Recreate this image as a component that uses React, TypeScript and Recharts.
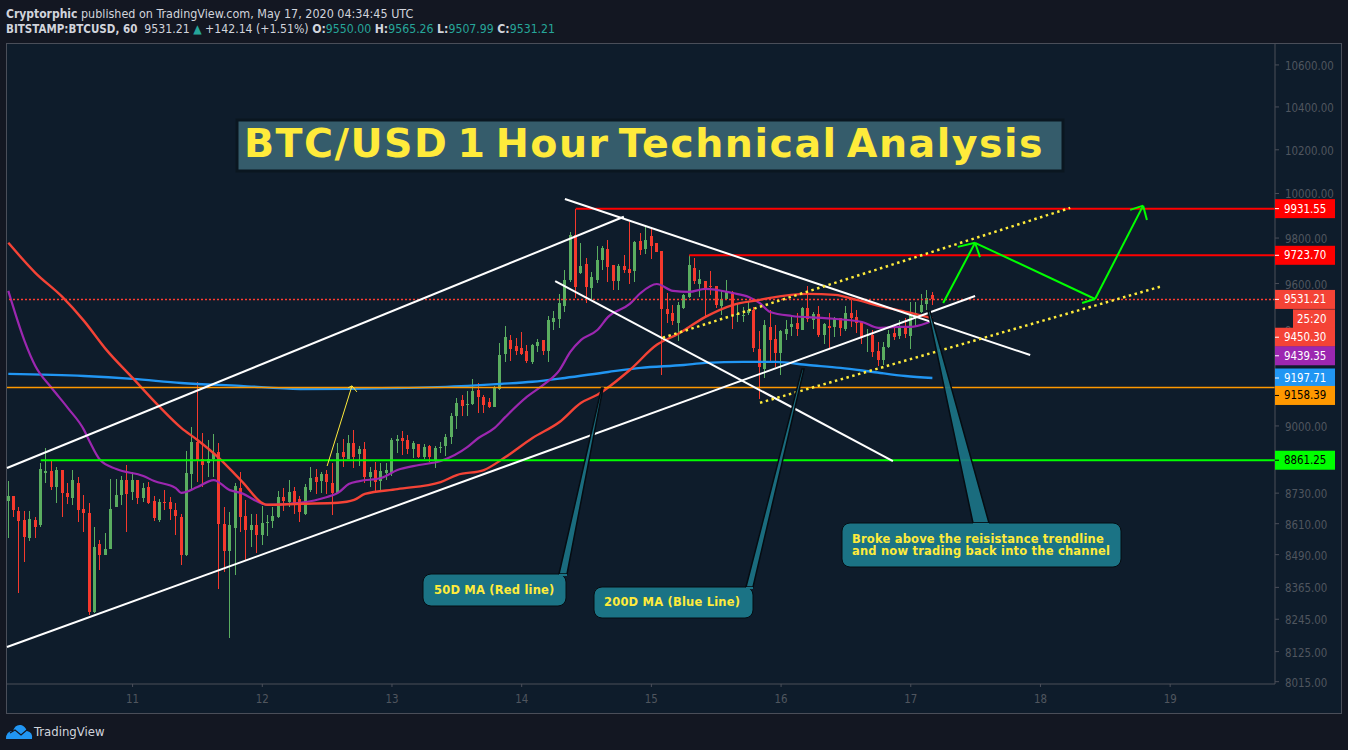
import { Bar, ComposedChart, Line, ReferenceLine, XAxis, YAxis } from 'recharts'

// hours since May 10 00:00 UTC, one candle per hour
const opens = [
  8700, 8719, 8660, 8625, 8556, 8625, 8603, 8810, 8818, 8756,
  8822, 8730, 8712, 8770, 8668, 8652, 8273, 8532, 8490, 8511,
  8677, 8721, 8782, 8735, 8782, 8711, 8755, 8699, 8625, 8695,
  8695, 8664, 8637, 8488, 8807, 8935, 8866, 8851, 8866, 8895,
  8609, 8506, 8595, 8751, 8641, 8586, 8606, 8566, 8615, 8621,
  8637, 8715, 8695, 8739, 8707, 8648, 8742, 8794, 8778, 8806,
  8770, 8732, 8894, 8867, 8931, 8886, 8907, 8794, 8822, 8778,
  8810, 8810, 8939, 8951, 8943, 8907, 8927, 8874, 8919, 8858,
  8912, 8919, 8955, 9041, 9107, 9088, 9090, 9148, 9119, 9099,
  9078, 9152, 9298, 9358, 9332, 9324, 9311, 9265, 9332, 9358,
  9311, 9434, 9447, 9503, 9616, 9814, 9647, 9686, 9581, 9616,
  9703, 9752, 9681, 9611, 9677, 9664, 9655, 9788, 9752, 9810,
  9779, 9743, 9490, 9473, 9430, 9494, 9542, 9668, 9598, 9611,
  9590, 9590, 9503, 9533, 9564, 9464, 9462, 9473, 9486, 9320,
  9236, 9413, 9362, 9303, 9384, 9413, 9430, 9400, 9494, 9443,
  9469, 9379, 9417, 9413, 9451, 9405, 9473, 9456, 9434, 9375,
  9379, 9311, 9273, 9328, 9388, 9375, 9417, 9375, 9456, 9477,
  9512, 9550,
]
const closes = [
  8719, 8665, 8622, 8560, 8629, 8598, 8826, 8818, 8756, 8822,
  8732, 8715, 8782, 8665, 8652, 8273, 8520, 8490, 8513, 8668,
  8724, 8782, 8728, 8782, 8710, 8752, 8693, 8634, 8695, 8693,
  8668, 8642, 8488, 8810, 8935, 8862, 8843, 8866, 8891, 8607,
  8505, 8606, 8758, 8638, 8586, 8606, 8566, 8612, 8617, 8641,
  8715, 8699, 8735, 8691, 8656, 8755, 8790, 8774, 8806, 8774,
  8730, 8890, 8874, 8931, 8874, 8907, 8795, 8814, 8774, 8818,
  8822, 8943, 8947, 8939, 8907, 8931, 8873, 8915, 8874, 8911,
  8915, 8955, 9041, 9095, 9082, 9090, 9144, 9119, 9086, 9078,
  9160, 9294, 9371, 9320, 9311, 9298, 9269, 9337, 9349, 9311,
  9443, 9451, 9516, 9616, 9814, 9586, 9677, 9586, 9629, 9703,
  9756, 9673, 9611, 9677, 9660, 9647, 9783, 9747, 9792, 9765,
  9739, 9490, 9469, 9439, 9507, 9551, 9681, 9611, 9620, 9577,
  9586, 9507, 9533, 9568, 9464, 9469, 9466, 9486, 9324, 9244,
  9422, 9358, 9303, 9396, 9405, 9426, 9405, 9494, 9447, 9469,
  9379, 9426, 9409, 9447, 9409, 9473, 9451, 9430, 9367, 9379,
  9307, 9273, 9328, 9384, 9371, 9417, 9384, 9464, 9473, 9507,
  9538, 9531.21,
]
const highs = [
  8778, 8719, 8676, 8660, 8660, 8637, 8850, 8909, 8862, 8833,
  8822, 8771, 8822, 8793, 8721, 8690, 8598, 8547, 8574, 8786,
  8786, 8799, 8842, 8813, 8782, 8769, 8775, 8719, 8706, 8742,
  8715, 8690, 8647, 8900, 8996, 9183, 8970, 8942, 8966, 8930,
  8676, 8655, 8769, 8815, 8703, 8647, 8648, 8680, 8645, 8677,
  8738, 8749, 8782, 8756, 8719, 8766, 8834, 8826, 8814, 8822,
  8849, 8929, 8946, 8963, 8984, 8919, 8935, 8833, 8854, 8849,
  8851, 8951, 8963, 8980, 8963, 8939, 8927, 8925, 8924, 8919,
  8934, 8967, 9055, 9115, 9128, 9144, 9194, 9176, 9128, 9115,
  9165, 9345, 9417, 9379, 9366, 9392, 9337, 9341, 9362, 9358,
  9460, 9482, 9555, 9660, 9828, 9931.55, 9779, 9712, 9651, 9765,
  9765, 9792, 9681, 9686, 9725, 9872, 9788, 9823, 9859, 9850,
  9779, 9743, 9559, 9507, 9520, 9555, 9725, 9712, 9660, 9611,
  9655, 9590, 9572, 9616, 9568, 9516, 9499, 9525, 9499, 9396,
  9443, 9486, 9422, 9400, 9443, 9456, 9473, 9499, 9590, 9477,
  9503, 9430, 9473, 9456, 9451, 9503, 9529, 9486, 9434, 9405,
  9400, 9349, 9349, 9400, 9422, 9443, 9451, 9520, 9520, 9555,
  9572, 9565.26,
]
const lows = [
  8553, 8638, 8345, 8460, 8544, 8553, 8599, 8771, 8742, 8693,
  8638, 8687, 8685, 8615, 8579, 8261, 8267, 8432, 8487, 8510,
  8677, 8683, 8579, 8703, 8687, 8696, 8687, 8621, 8618, 8664,
  8625, 8566, 8451, 8485, 8742, 8775, 8756, 8795, 8795, 8359,
  8425, 8177, 8412, 8579, 8464, 8521, 8498, 8528, 8562, 8594,
  8634, 8661, 8677, 8648, 8615, 8645, 8736, 8726, 8729, 8726,
  8645, 8732, 8835, 8865, 8831, 8838, 8771, 8756, 8740, 8742,
  8782, 8798, 8890, 8882, 8886, 8870, 8870, 8866, 8855, 8829,
  8890, 8878, 8927, 8986, 9041, 9041, 9086, 9052, 9053, 9074,
  9078, 9148, 9265, 9269, 9294, 9294, 9261, 9256, 9307, 9294,
  9265, 9400, 9409, 9477, 9607, 9538, 9640, 9516, 9533, 9603,
  9660, 9607, 9572, 9572, 9647, 9598, 9607, 9725, 9730, 9707,
  9739, 9211, 9430, 9422, 9354, 9490, 9538, 9598, 9542, 9456,
  9551, 9494, 9464, 9529, 9405, 9434, 9434, 9464, 9307, 9111,
  9198, 9265, 9244, 9211, 9358, 9375, 9375, 9400, 9434, 9405,
  9371, 9341, 9324, 9371, 9375, 9396, 9413, 9388, 9341, 9307,
  9286, 9248, 9252, 9324, 9358, 9362, 9367, 9320, 9413, 9473,
  9486, 9507.99,
]

const purpleHours = [1, 4, 6, 9, 12, 15, 16, 18, 21, 26, 28, 32, 33, 36, 39, 42, 44, 49, 55, 60, 62, 64, 66, 70, 73, 77, 81, 86, 88, 91, 93, 97, 100, 103, 105, 107, 110, 112, 116, 118, 121, 124, 127, 130, 135, 138, 140, 142, 146, 152, 159, 162, 166, 168, 171, 172]
const purpleValues = [9568, 9354, 9248, 9157, 9074, 8984, 8939, 8862, 8826, 8798, 8778, 8750, 8731, 8754, 8782, 8742, 8731, 8684, 8692, 8715, 8731, 8766, 8778, 8790, 8822, 8842, 8858, 8915, 8951, 8992, 9037, 9120, 9169, 9231, 9307, 9358, 9400, 9456, 9512, 9559, 9598, 9568, 9564, 9577, 9559, 9542, 9516, 9477, 9460, 9451, 9434, 9409, 9413, 9413, 9430, 9439.35]

const redHours = [1, 6, 11, 15, 19, 24, 29, 33, 36, 40, 44, 49, 55, 62, 65, 67, 73, 81, 84, 89, 93, 98, 103, 107, 110, 116, 121, 125, 130, 135, 140, 142, 149, 154, 158, 163, 168, 172]
const redValues = [9779, 9647, 9542, 9439, 9320, 9198, 9078, 8992, 8943, 8870, 8782, 8684, 8688, 8692, 8703, 8727, 8746, 8774, 8802, 8822, 8874, 8951, 9016, 9095, 9128, 9231, 9337, 9384, 9456, 9507, 9529, 9538, 9555, 9551, 9529, 9499, 9473, 9450.3]

const blueHours = [1, 15, 24, 33, 44, 55, 73, 86, 92, 98, 104, 112, 118, 126, 130, 137, 143, 149, 155, 161, 167, 172]
const blueValues = [9215, 9206, 9194, 9177, 9165, 9152, 9156, 9165, 9173, 9182, 9198, 9223, 9240, 9252, 9261, 9265, 9265, 9252, 9240, 9223, 9206, 9197.71]

const dayTicks = [24, 48, 72, 96, 120, 144, 168, 192, 216]
const priceTicks = [10600, 10400, 10200, 10000, 9800, 9600, 9400, 9000, 8730, 8610, 8490, 8365, 8245, 8125, 8015]

const HOUR_MIN = 0.76
const HOUR_MAX = 235.4
const PRICE_MIN = 8006.6
const PRICE_MAX = 10701

// [hour, price, hour, price]
const whiteLines = [
  [0.76, 8830, 114.9, 9895],
  [0.76, 8142, 179.9, 9546],
  [104, 9975, 190.1, 9294],
  [102.2, 9611, 164.7, 8858],
]
const dottedLines = [
  [122.1, 9367, 197.5, 9935],
  [140.1, 9095, 214.1, 9586],
]
const yellowArrow = [
  [60, 8838, 64.6, 9165],
  [64.6, 9165, 63.9, 9157],
  [64.6, 9165, 65.5, 9140],
]
const greenArrows = [
  [174, 9516, 179.9, 9779],
  [179.9, 9779, 202.1, 9533],
  [202.1, 9533, 211, 9945],
  [176.7, 9761, 179.9, 9779],
  [179.9, 9779, 180.8, 9716],
  [199.7, 9516, 202.1, 9533],
  [208.6, 9926, 211, 9945],
  [211, 9945, 211.7, 9881],
]
const levelLines = [
  { price: 9931.55, from: 106, color: '#ff0000', width: 2 },
  { price: 9723.7, from: 127, color: '#ff0000', width: 2 },
  { price: 9158.39, from: HOUR_MIN, color: '#ff9800', width: 1.5 },
  { price: 8861.25, from: 7, color: '#00ff00', width: 2 },
]

const priceLabels = [
  { price: 9931.55, bg: '#ff0000', fg: '#ffffff', shift: 0 },
  { price: 9723.7, bg: '#ff0000', fg: '#ffffff', shift: 0 },
  { price: 9531.21, bg: '#f44336', fg: '#ffffff', shift: 0 },
  { price: 9450.3, bg: '#f44336', fg: '#ffffff', shift: 19 },
  { price: 9439.35, bg: '#9c27b0', fg: '#ffffff', shift: 35 },
  { price: 9197.71, bg: '#2196f3', fg: '#ffffff', shift: 0 },
  { price: 9158.39, bg: '#ff9800', fg: '#000000', shift: 8 },
  { price: 8861.25, bg: '#00ff00', fg: '#000000', shift: 0 },
]

const UP = '#5aad60'
const DOWN = '#f5392d'
const UI_FONT = '"DejaVu Sans Condensed", "DejaVu Sans", sans-serif'

const purpleByHour = new Map(purpleHours.map((h, i) => [h, purpleValues[i]]))
const redByHour = new Map(redHours.map((h, i) => [h, redValues[i]]))
const blueByHour = new Map(blueHours.map((h, i) => [h, blueValues[i]]))

const rows = opens.map((open, i) => ({
  hour: i + 1,
  open,
  close: closes[i],
  high: highs[i],
  low: lows[i],
  purple: purpleByHour.get(i + 1) ?? null,
  red: redByHour.get(i + 1) ?? null,
  blue: blueByHour.get(i + 1) ?? null,
}))

// snap candles to whole pixels, like the TradingView canvas does
function Wick({ x, y, width, height, payload }: any) {
  const center = Math.round(x + width / 2 - 0.5)
  return (
    <rect
      x={center}
      y={y}
      width={1}
      height={Math.max(height, 1)}
      fill={payload.close >= payload.open ? UP : DOWN}
      shapeRendering="crispEdges"
    />
  )
}

function Body({ x, y, width, height, payload }: any) {
  const center = Math.round(x + width / 2 - 0.5)
  return (
    <rect
      x={center - 1}
      y={y}
      width={3}
      height={Math.max(height, 1)}
      fill={payload.close >= payload.open ? UP : DOWN}
      shapeRendering="crispEdges"
    />
  )
}

function PriceTick({ x, y, payload }: any) {
  const label = priceLabels.find((l) => l.price === payload.value)
  if (!label) {
    return (
      <g>
        <line x1={x} x2={x + 4} y1={y} y2={y} stroke="#4a4e59" />
        <text x={x + 10} y={y + 5} fill="#50565f" fontSize={11.4} fontFamily={UI_FONT}>
          {payload.value.toFixed(2)}
        </text>
      </g>
    )
  }
  const cy = y + label.shift
  return (
    <g>
      {label.price === 9531.21 && (
        <g>
          <rect x={x + 18} y={cy + 10} width={42} height={20} fill={label.bg} />
          <text x={x + 22} y={cy + 24} fill="#ffffff" fontSize={11.4} fontFamily={UI_FONT}>25:20</text>
        </g>
      )}
      <rect x={x} y={cy - 9.5} width={60} height={19} fill={label.bg} />
      <line x1={x} x2={x + 4} y1={cy} y2={cy} stroke={label.fg} />
      <text x={x + 9} y={cy + 4} fill={label.fg} fontSize={11.4} fontFamily={UI_FONT}>
        {label.price.toFixed(2)}
      </text>
    </g>
  )
}

function Callout({ points, x, y, w, h, lines, textX, textY }: any) {
  return (
    <g>
      <polygon points={points.join(' ')} fill="#1b7385" fillOpacity={0.92} stroke="#050c12" strokeWidth={1.5} />
      <rect x={x} y={y} width={w} height={h} rx={8} fill="#1b7385" stroke="#050c12" />
      <line x1={points[0].split(',')[0]} x2={points[3].split(',')[0]} y1={y + 1} y2={y + 1} stroke="#1b7385" strokeWidth={2} />
      {lines.map((line: string, i: number) => (
        <text key={line} x={textX} y={textY + i * 12} fill="#ffeb3b" fontSize={11.5} fontWeight="bold" fontFamily="DejaVu Sans" letterSpacing={0.2}>
          {line}
        </text>
      ))}
    </g>
  )
}

export default function App() {
  return (
    <div style={{ position: 'absolute', left: 0, top: 0, width: 1348, height: 750, background: '#131722', overflow: 'hidden' }}>
      <div style={{ position: 'absolute', left: 6, top: 6, fontFamily: UI_FONT, fontSize: 12.45, color: '#d1d4dc', whiteSpace: 'nowrap', lineHeight: '15px' }}>
        <b style={{ fontSize: 12 }}>Cryptorphic</b> published on TradingView.com, May 17, 2020 04:34:45 UTC
      </div>
      <div style={{ position: 'absolute', left: 6, top: 22, fontFamily: UI_FONT, fontSize: 12.2, color: '#d1d4dc', whiteSpace: 'nowrap', lineHeight: '15px' }}>
        <b style={{ fontSize: 11.5 }}>BITSTAMP:BTCUSD, 60</b>&nbsp; 9531.21 <span style={{ color: '#26a69a' }}>▲</span> +142.14 (+1.51%) <b>O:</b>
        <span style={{ color: '#26a69a' }}>9550.00</span> <b>H:</b>
        <span style={{ color: '#26a69a' }}>9565.26</span> <b>L:</b>
        <span style={{ color: '#26a69a' }}>9507.99</span> <b>C:</b>
        <span style={{ color: '#26a69a' }}>9531.21</span>
      </div>
      <div style={{ position: 'absolute', left: 6, top: 43, width: 1334, height: 669, background: '#0e1c2b', border: '1px solid #4a4e59' }} />
      <div style={{ position: 'absolute', left: 0, top: 0 }}>
        <ComposedChart width={1348} height={750} data={rows} margin={{ top: 44, right: 7, bottom: 37, left: 7 }}>
          <XAxis
            dataKey="hour"
            type="number"
            domain={[HOUR_MIN, HOUR_MAX]}
            allowDataOverflow
            ticks={dayTicks}
            interval={0}
            height={29}
            stroke="#4a4e59"
            tickSize={3}
            tickMargin={8}
            tickFormatter={(h: number) => String(10 + h / 24)}
            tick={{ fill: '#50565f', fontSize: 11.4, fontFamily: UI_FONT }}
          />
          <XAxis xAxisId="bodies" dataKey="hour" type="number" domain={[HOUR_MIN, HOUR_MAX]} allowDataOverflow hide />
          <YAxis
            orientation="right"
            type="number"
            scale="log"
            domain={[PRICE_MIN, PRICE_MAX]}
            allowDataOverflow
            ticks={[...priceTicks, ...priceLabels.map((l) => l.price)]}
            interval={0}
            width={66}
            stroke="#4a4e59"
            tickLine={false}
            tickSize={0}
            tickMargin={0}
            tick={PriceTick}
          />
          <Bar dataKey={(d: any) => [d.low, d.high]} barSize={1} shape={Wick} isAnimationActive={false} />
          <Bar xAxisId="bodies" dataKey={(d: any) => [Math.min(d.open, d.close), Math.max(d.open, d.close)]} barSize={3} shape={Body} isAnimationActive={false} />
          <Line dataKey="blue" type="monotone" stroke="#2196f3" strokeWidth={2.4} dot={false} connectNulls isAnimationActive={false} />
          <Line dataKey="purple" type="monotone" stroke="#9c27b0" strokeWidth={2.2} dot={false} connectNulls isAnimationActive={false} />
          <Line dataKey="red" type="monotone" stroke="#f44336" strokeWidth={2.4} dot={false} connectNulls isAnimationActive={false} />
          {levelLines.map((l) => (
            <ReferenceLine
              key={l.price}
              segment={[{ x: l.from, y: l.price }, { x: HOUR_MAX, y: l.price }]}
              stroke={l.color}
              strokeWidth={l.width}
              ifOverflow="visible"
            />
          ))}
          <ReferenceLine y={9531.21} stroke="#ff3b30" strokeWidth={1.5} strokeDasharray="2 2" />
          {whiteLines.map((s) => (
            <ReferenceLine key={s.join()} segment={[{ x: s[0], y: s[1] }, { x: s[2], y: s[3] }]} stroke="#ffffff" strokeWidth={2} ifOverflow="visible" />
          ))}
          {dottedLines.map((s) => (
            <ReferenceLine key={s.join()} segment={[{ x: s[0], y: s[1] }, { x: s[2], y: s[3] }]} stroke="#ffeb3b" strokeWidth={2.5} strokeDasharray="2.5 3.5" ifOverflow="visible" />
          ))}
          {yellowArrow.map((s) => (
            <ReferenceLine key={s.join()} segment={[{ x: s[0], y: s[1] }, { x: s[2], y: s[3] }]} stroke="#ffeb3b" strokeWidth={1} ifOverflow="visible" />
          ))}
          {greenArrows.map((s) => (
            <ReferenceLine key={s.join()} segment={[{ x: s[0], y: s[1] }, { x: s[2], y: s[3] }]} stroke="#00ff00" strokeWidth={2} ifOverflow="visible" />
          ))}
        </ComposedChart>
      </div>
      <svg width={1348} height={750} style={{ position: 'absolute', left: 0, top: 0, pointerEvents: 'none' }}>
        <rect x={237} y={120} width={826} height={51} fill="#355c6b" stroke="#0a1620" strokeWidth={3} />
        <text x={244} y={157} fill="#ffeb3b" fontSize={39.5} fontWeight="bold" fontFamily="DejaVu Sans" letterSpacing={1.5} wordSpacing={-6}>
          BTC/USD 1 Hour Technical Analysis
        </text>
        <Callout points={['559,574', '601.5,388', '603,388', '567,574']} x={423} y={574} w={143} h={32} lines={['50D MA (Red line)']} textX={434} textY={594} />
        <Callout points={['746,587', '802,369', '804,369', '753,587']} x={594} y={587} w={159} h={31} lines={['200D MA (Blue Line)']} textX={604} textY={606} />
        <Callout points={['973,523', '928,311', '930,311', '989,523']} x={842} y={523} w={279} h={44} lines={['Broke above the reisistance trendline', 'and now trading back into the channel']} textX={852} textY={543} />
        <path d="M6 739 Q6 731 13 731 Q15 724 21 725 Q25 726 27 731 Q33 732 32 739 Z" fill="#2196f3" />
        <path d="M10 733 L15 730 L21 735 L28 729" fill="none" stroke="#131722" strokeWidth={1.2} />
        <text x={34} y={736} fill="#d1d4dc" fontSize={13} fontFamily={UI_FONT}>TradingView</text>
      </svg>
    </div>
  )
}
